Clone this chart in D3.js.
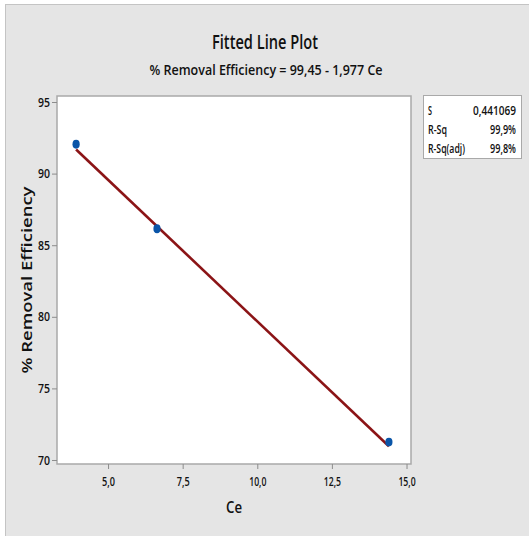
<!DOCTYPE html>
<html><head><meta charset="utf-8">
<script src="https://cdn.jsdelivr.net/npm/d3@7"></script>
<style>html,body{margin:0;padding:0;background:#fff;overflow:hidden}</style>
</head><body>
<svg id="c" width="529" height="536"></svg>
<script>
const ceValues = [3.93, 6.64, 14.41];
const removalValues = [92.05, 86.15, 71.25];
const fitIntercept = 99.45, fitSlope = -1.977;
const xTicks = [5, 7.5, 10, 12.5, 15];
const yTicks = [70, 75, 80, 85, 90, 95];
const statLabels = ["S", "R-Sq", "R-Sq(adj)"];
const statValues = ["0,441069", "99,9%", "99,8%"];

const svg = d3.select("#c");
const font = "'Open Sans', sans-serif";
const fmt = d => d3.format(".1f")(d).replace(".", ",");

svg.append("rect").attr("x",5.5).attr("y",4.5).attr("width",540).attr("height",540)
  .attr("fill","#e5e5e5").attr("stroke","#c4c4c4");

const L=57, R=411, T=96, B=464;
const x = d3.scaleLinear().domain([3.29, 15.15]).range([L, R]);
const y = d3.scaleLinear().domain([69.72, 95.42]).range([B, T]);

svg.append("rect").attr("x",L).attr("y",T).attr("width",R-L).attr("height",B-T)
  .attr("fill","#fff").attr("stroke","#a9a9a9").attr("stroke-width",1.5);

const gx = svg.append("g").attr("transform",`translate(0,${B})`)
  .call(d3.axisBottom(x).tickValues(xTicks).tickFormat(fmt).tickSize(5).tickPadding(8));
const gy = svg.append("g").attr("transform",`translate(${L},0)`)
  .call(d3.axisLeft(y).tickValues(yTicks).tickFormat(d=>d).tickSize(5).tickPadding(2));
[gx,gy].forEach(g=>{
  g.select(".domain").remove();
  g.selectAll("line").attr("stroke","#8c8c8c");
  g.selectAll("text").attr("fill","#111").style("font-family",font).style("font-size","13px")
   .style("font-weight","600").attr("transform",null);
});
gx.selectAll("text").each(function(){ d3.select(this).attr("textLength", this.textContent.length*4.3).attr("lengthAdjust","spacingAndGlyphs"); });
gy.selectAll("text").each(function(){ d3.select(this).attr("textLength", this.textContent.length*6).attr("lengthAdjust","spacingAndGlyphs"); });

// fit line
const xs = [d3.min(ceValues), d3.max(ceValues)];
svg.append("path").attr("d", d3.line()(xs.map(v=>[x(v), y(fitIntercept+fitSlope*v)])))
  .attr("stroke","#8b1416").attr("stroke-width",2.6).attr("fill","none");

svg.selectAll("ellipse.pt").data(ceValues).join("ellipse")
  .attr("cx",(d)=>x(d)).attr("cy",(d,i)=>y(removalValues[i])).attr("rx",3.6).attr("ry",4.4)
  .attr("fill","#0a55a8");

// titles
svg.append("text").attr("x",265).attr("y",49).attr("text-anchor","middle")
  .style("font-family",font).style("font-size","19px").style("font-weight","600").attr("fill","#111")
  .attr("textLength",106).attr("lengthAdjust","spacingAndGlyphs").text("Fitted Line Plot");
svg.append("text").attr("x",266).attr("y",75).attr("text-anchor","middle")
  .style("font-family",font).style("font-size","15px").style("font-weight","600").attr("fill","#111")
  .attr("textLength",233).attr("lengthAdjust","spacingAndGlyphs").text("% Removal Efficiency = 99,45 - 1,977 Ce");

svg.append("text").attr("transform","translate(32,280) rotate(-90)").attr("text-anchor","middle")
  .style("font-family",font).style("font-size","14.5px").style("font-weight","600").attr("fill","#111")
  .attr("textLength",187).attr("lengthAdjust","spacingAndGlyphs").text("% Removal Efficiency");

svg.append("text").attr("x",234).attr("y",513).attr("text-anchor","middle")
  .style("font-family",font).style("font-size","17px").style("font-weight","600").attr("fill","#111")
  .attr("textLength",16).attr("lengthAdjust","spacingAndGlyphs").text("Ce");

// stats box
svg.append("rect").attr("x",423.5).attr("y",95.5).attr("width",98).attr("height",63)
  .attr("fill","#fff").attr("stroke","#a9a9a9");
statLabels.forEach((s,i)=>{
  const yy = 115 + i*19;
  svg.append("text").attr("x",428).attr("y",yy).style("font-family",font).style("font-size","12px")
    .style("font-weight","600").attr("fill","#111")
    .attr("textLength",[4,19,37][i]).attr("lengthAdjust","spacingAndGlyphs").text(s);
  svg.append("text").attr("x",516).attr("y",yy).attr("text-anchor","end").style("font-family",font).style("font-size","12px")
    .style("font-weight","600").attr("fill","#111")
    .attr("textLength",[43,26,26][i]).attr("lengthAdjust","spacingAndGlyphs").text(statValues[i]);
});
</script>
</body></html>
